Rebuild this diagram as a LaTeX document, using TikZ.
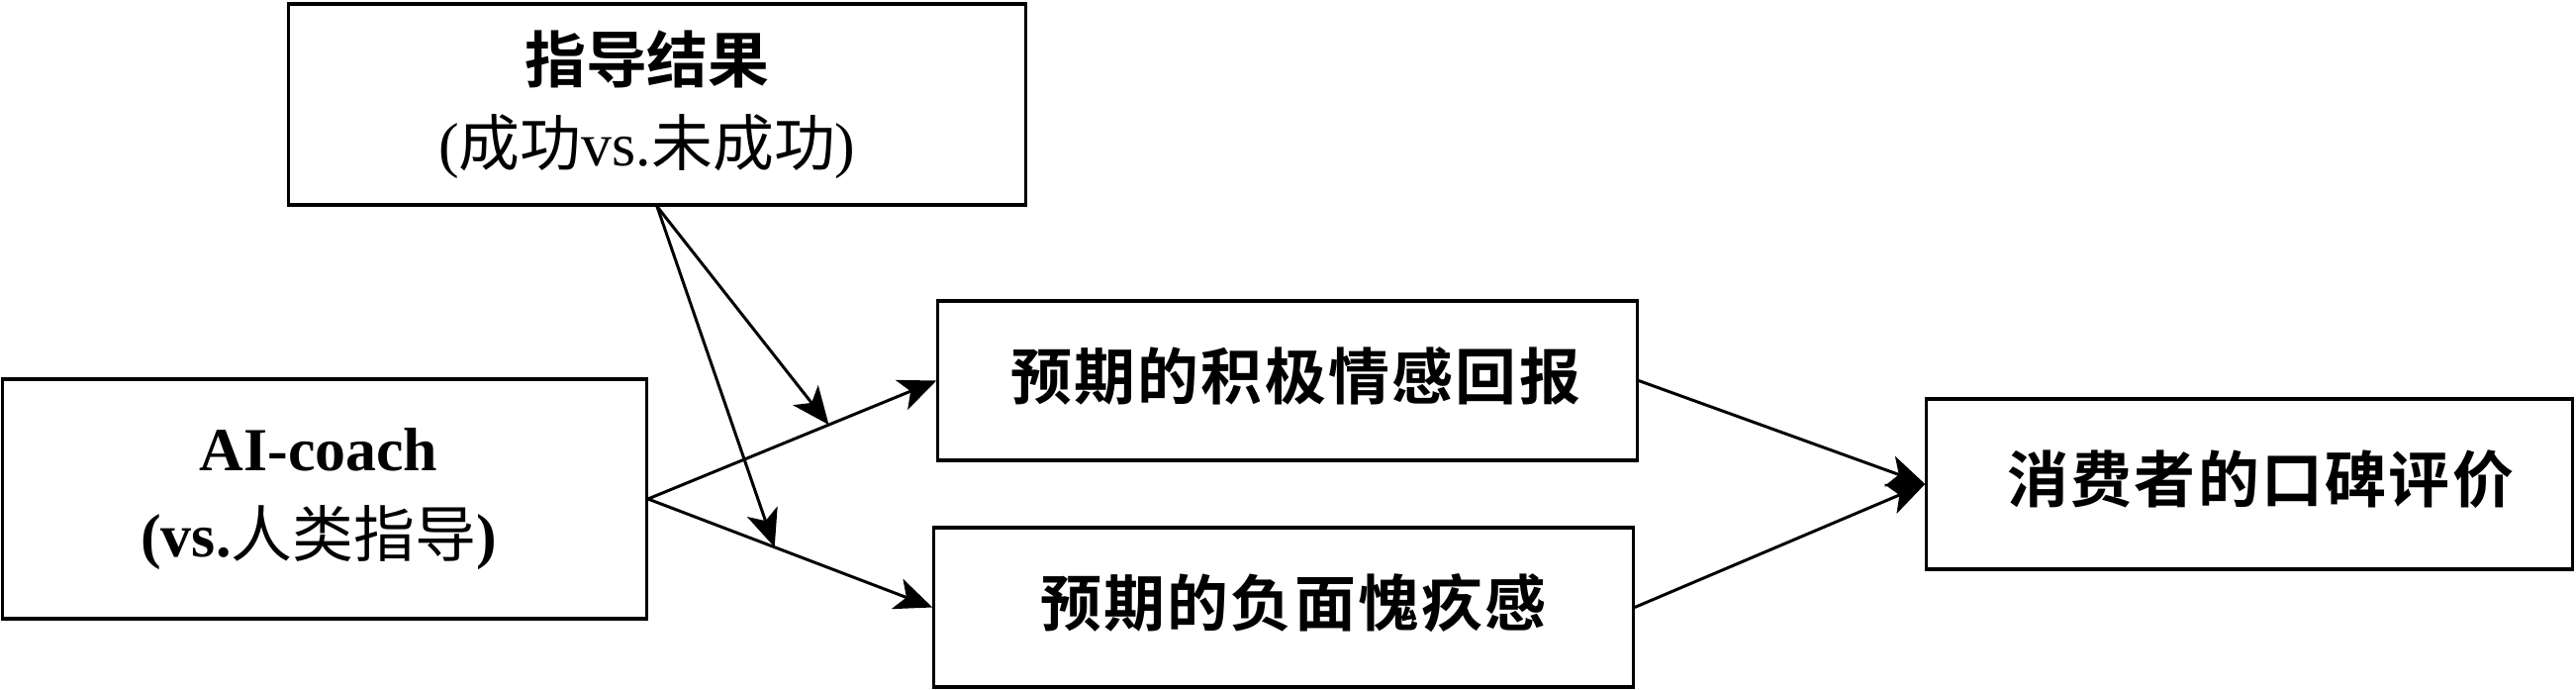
\documentclass[tikz,border=0pt]{standalone}
\usepackage{fontspec}
\setmainfont{Liberation Serif}
\newfontfamily\hei{Noto Sans CJK SC Bold}
\newfontfamily\heisp{Noto Sans CJK SC Bold}[LetterSpace=3.8]
\newfontfamily\song{Noto Sans CJK SC}
\usetikzlibrary{arrows.meta}
\newcommand\liftup[1]{\raisebox{1.3pt}[\height][\depth]{#1}}
\begin{document}
\begin{tikzpicture}[x=0.01cm,y=-0.01cm,
  box/.style={draw, line width=0.9pt, rectangle, inner sep=0pt, align=center},
  arr/.style={line width=0.85pt, -{Stealth[length=10.8pt,width=9.2pt,inset=2.8pt]}},
  every node/.style={font=\fontsize{17.6pt}{24pt}\selectfont}]
\useasboundingbox (0,0) rectangle (2603,697);
\fill[white] (0,0) rectangle (2603,697);

\node[box, minimum width=7.44cm, minimum height=2.03cm] (res) at (664,105.5)
  {{\hei 指导结果}\hspace*{5.7pt}\\({\song 成功}vs.{\song 未成功})\hspace*{5.7pt}};
\node[box, minimum width=6.50cm, minimum height=2.42cm,
  font=\fontsize{17.6pt}{24.7pt}\selectfont] (ai) at (328,504)
  {{\bfseries AI-coach}\hspace*{3.4pt}\\{\bfseries(vs.}{\song 人类指导}{\bfseries)}\hspace*{3.4pt}};
\node[box, minimum width=7.06cm, minimum height=1.61cm] (p1) at (1301,384.5)
  {\hspace*{4.6pt}\liftup{\heisp 预期的积极情感回报}};
\node[box, minimum width=7.06cm, minimum height=1.61cm] (p2) at (1297,613.5)
  {\hspace*{5.6pt}\liftup{\heisp 预期的负面愧疚感}};
\node[box, minimum width=6.52cm, minimum height=1.72cm] (p3) at (2273,489)
  {\hspace*{6.4pt}\liftup{\heisp 消费者的口碑评价}};

\path (ai.east) -- (p1.west) coordinate[pos=0.627] (m1);
\path (ai.east) -- (p2.west) coordinate[pos=0.445] (m2);
\draw[arr] (ai.east) -- (p1.west);
\draw[arr] (ai.east) -- (p2.west);
\draw[arr] (res.south) -- (m1);
\draw[arr] (res.south) -- (m2);
\draw[arr] (p1.east) -- (p3.west);
\draw[arr] (p2.east) -- (p3.west);
\end{tikzpicture}
\end{document}
